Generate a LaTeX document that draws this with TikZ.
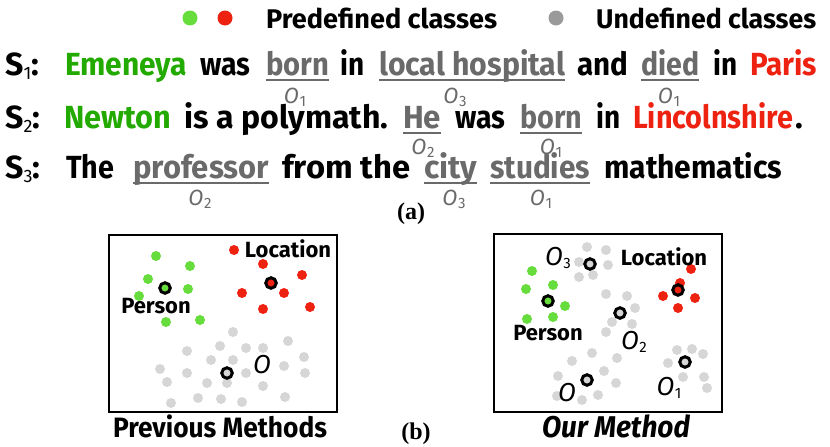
\documentclass[tikz,border=0pt]{standalone}
\usepackage{fontspec}
\setmainfont{Fira Sans}
\newfontfamily\capfont{Liberation Serif}
\usepackage{graphicx}
\definecolor{tgreen}{HTML}{22AA00}
\definecolor{pgreen}{HTML}{66DD3C}
\definecolor{pred}{HTML}{EE2211}
\definecolor{ulgray}{HTML}{6A6A6A}
\definecolor{lgray}{HTML}{D6D6D6}
\definecolor{mgray}{HTML}{9A9A9A}
\newcommand{\fitw}[2]{\resizebox{#1pt}{\height}{#2}}
\newcommand{\Ssub}[1]{S\raisebox{-4pt}{\fontsize{18}{18}\selectfont\mdseries #1}:}
\newcommand{\Osub}[1]{O\kern0.5pt\raisebox{-3pt}{\fontsize{15}{15}\selectfont\upshape #1}}
\tikzset{
  wd/.style={anchor=base west, inner sep=0pt, font=\fontsize{32}{32}\selectfont\bfseries},
  ulw/.style={wd, text=ulgray},
  olab/.style={inner sep=0pt, text=ulgray, font=\fontsize{22}{22}\selectfont\itshape},
  uline/.style={draw=ulgray, line width=2.4pt},
  boxlab/.style={inner sep=0pt, font=\fontsize{22}{22}\selectfont\bfseries},
  blab/.style={inner sep=0pt, font=\fontsize{26}{26}\selectfont\itshape},
  capt/.style={inner sep=0pt, font=\capfont\fontsize{24}{24}\selectfont\bfseries},
  frame/.style={draw=black, line width=1.8pt},
  cring/.style={circle, draw=black, line width=3pt, fill=#1, minimum size=10.5pt, inner sep=0pt},
}
\newcommand{\ul}[1]{\draw[uline] ([yshift=-5pt]#1.base west) -- ([yshift=-5pt]#1.base east);}
\begin{document}
\begin{tikzpicture}[x=1pt,y=-1pt]
\useasboundingbox (0,0) rectangle (830,447);
% legend
\fill[pgreen] (190,18) circle (7.5);
\fill[pred] (225,18) circle (7.5);
\node[wd, font=\fontsize{27}{27}\selectfont\bfseries] (pd) at (266,28) {\fitw{231}{Predefined classes}};
\fill[mgray] (556,18) circle (7.5);
\node[wd, font=\fontsize{27}{27}\selectfont\bfseries] (ud) at (596,28) {\fitw{220}{Undefined classes}};
% S1
\node[wd] (a0) at (5,75) {\Ssub{1}};
\node[wd, text=tgreen] (a1) at (65,75) {\fitw{122}{Emeneya}};
\node[wd] (a2) at (200,75) {\fitw{50}{was}};
\node[ulw] (a3) at (266,75) {\fitw{63}{born}};
\node[wd] (a4) at (340,75) {\fitw{24}{in}};
\node[ulw] (a5) at (379,75) {\fitw{186}{local hospital}};
\node[wd] (a6) at (577,75) {\fitw{51}{and}};
\node[ulw] (a7) at (641,75) {\fitw{58}{died}};
\node[wd] (a8) at (713,75) {\fitw{24}{in}};
\node[wd, text=pred] (a9) at (750,75) {\fitw{67}{Paris}};
\ul{a3}\ul{a5}\ul{a7}
\node[olab] (o1) at (295,97) {\Osub{1}};
\node[olab] (o2) at (455,97) {\Osub{3}};
\node[olab] (o3) at (669,97) {\Osub{1}};
% S2
\node[wd] (b0) at (5,128) {\Ssub{2}};
\node[wd, text=tgreen] (b1) at (64,128) {\fitw{107}{Newton}};
\node[wd] (b2) at (184,128) {\fitw{204}{is a polymath.}};
\node[ulw] (b3) at (403,128) {\fitw{38}{He}};
\node[wd] (b4) at (455,128) {\fitw{50}{was}};
\node[ulw] (b5) at (520,128) {\fitw{62}{born}};
\node[wd] (b6) at (596,128) {\fitw{24}{in}};
\node[wd, text=pred] (b7) at (633,128) {\fitw{160}{Lincolnshire}};
\node[wd] (b8) at (795,128) {.};
\ul{b3}\ul{b5}
\node[olab] (o4) at (423,148) {\Osub{2}};
\node[olab] (o5) at (551,148) {\Osub{1}};
% S3
\node[wd] (c0) at (5,178) {\Ssub{3}};
\node[wd] (c1) at (66,178) {\fitw{48}{The}};
\node[ulw] (c2) at (133,178) {\fitw{136}{professor}};
\node[wd] (c3) at (282,178) {\fitw{128}{from the}};
\node[ulw] (c4) at (424,178) {\fitw{53}{city}};
\node[ulw] (c5) at (490,178) {\fitw{100}{studies}};
\node[wd] (c6) at (604,178) {\fitw{178}{mathematics}};
\ul{c2}\ul{c4}\ul{c5}
\node[olab] (o6) at (200,199) {\Osub{2}};
\node[olab] (o7) at (454,199) {\Osub{3}};
\node[olab] (o8) at (541,199) {\Osub{1}};
\node[capt] (capa) at (411,214) {(a)};
% left box
\draw[frame] (109,235) rectangle (337,412);
\foreach \p in {(156,256),(190,266),(148,279),(188,289),(139,296),(166,322),(200,320)}
  \fill[pgreen] \p circle (5);
\foreach \p in {(234,250),(263,264),(302,275),(242,293),(284,293),(263,309),(310,307)}
  \fill[pred] \p circle (5);
\foreach \p in {(233,332),(288,341),(220,346),(187,351),(246,348),(263,348),(211,360),(233,360),(304,357),(284,366),(160,369),(187,373),(246,373),(305,373),(167,382),(207,383),(227,383),(263,386),(198,398),(221,399),(242,402),(285,397),(171,403)}
  \fill[lgray] \p circle (5);
\node[cring=pgreen] (lp) at (165,288) {};
\node[cring=pred] (ll) at (271,283) {};
\node[cring=lgray] (lo) at (227,373) {};
\node[boxlab] (lpt) at (156,306) {Person};
\node[boxlab] (llt) at (288,249) {Location};
\node[blab] (lot) at (262,365) {O};
\node[wd, anchor=base, font=\fontsize{28}{28}\selectfont\bfseries] (pm) at (220,437) {\fitw{214}{Previous Methods}};
\node[capt] (capb) at (416,434) {(b)};
% right box
\draw[frame] (494,234) rectangle (722,412);
\foreach \p in {(587,247),(606,250),(579,262),(608,265),(579,277),(593,275),
  (606,294),(627,296),(635,308),(612,322),(632,324),(606,332),
  (592,353),(572,361),(617,358),(604,371),(558,376),(616,383),(598,395),(582,400),(557,396),
  (677,350),(692,349),(703,354),(668,363),(683,377),(704,377),(707,388)}
  \fill[lgray] \p circle (5);
\foreach \p in {(532,271),(553,285),(526,289),(565,306),(527,319),(553,317)}
  \fill[pgreen] \p circle (5);
\foreach \p in {(691,269),(680,283),(663,296),(695,298),(678,308)}
  \fill[pred] \p circle (5);
\node[cring=lgray] (r3) at (590,264) {};
\node[cring=pgreen] (rp) at (548,301) {};
\node[cring=pred] (rl) at (678,290) {};
\node[cring=lgray] (r2) at (620,313) {};
\node[cring=lgray] (r0) at (587,380) {};
\node[cring=lgray] (r1) at (685,362) {};
\node[blab] (r3t) at (558,258) {\Osub{3}};
\node[boxlab] (rpt) at (548,333) {Person};
\node[boxlab] (rlt) at (664,257) {Location};
\node[blab] (r2t) at (634,342) {\Osub{2}};
\node[blab] (r0t) at (567,393) {O};
\node[blab] (r1t) at (669,388) {\Osub{1}};
\node[wd, anchor=base, font=\fontsize{30}{30}\selectfont\itshape\bfseries] (om) at (616,437) {\fitw{148}{Our Method}};
\end{tikzpicture}
\end{document}
